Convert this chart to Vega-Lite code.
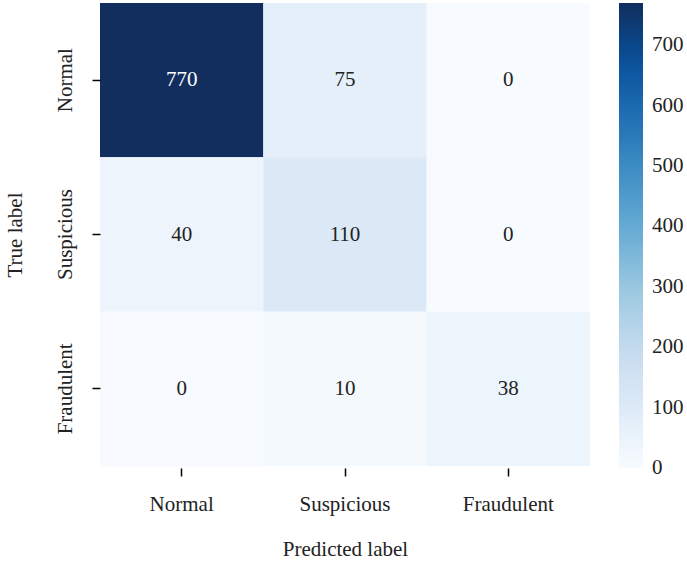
{
  "$schema": "https://vega.github.io/schema/vega-lite/v6.json",
  "width": 490,
  "height": 463,
  "autosize": "none",
  "padding": {"left": 100, "top": 3, "right": 97, "bottom": 96},
  "background": "white",
  "config": {"view": {"stroke": null}, "font": "Liberation Serif"},
  "data": {
    "values": [
      {"true": "Normal", "pred": "Normal", "count": 770},
      {"true": "Normal", "pred": "Suspicious", "count": 75},
      {"true": "Normal", "pred": "Fraudulent", "count": 0},
      {"true": "Suspicious", "pred": "Normal", "count": 40},
      {"true": "Suspicious", "pred": "Suspicious", "count": 110},
      {"true": "Suspicious", "pred": "Fraudulent", "count": 0},
      {"true": "Fraudulent", "pred": "Normal", "count": 0},
      {"true": "Fraudulent", "pred": "Suspicious", "count": 10},
      {"true": "Fraudulent", "pred": "Fraudulent", "count": 38}
    ]
  },
  "encoding": {
    "x": {
      "field": "pred",
      "type": "nominal",
      "sort": ["Normal", "Suspicious", "Fraudulent"],
      "title": "Predicted label",
      "scale": {"paddingInner": 0, "paddingOuter": 0},
      "axis": {
        "labelAngle": 0,
        "labelFont": "Liberation Serif",
        "labelFontSize": 21,
        "labelColor": "#222222",
        "labelPadding": 17,
        "offset": 2,
        "tickSize": 8,
        "tickWidth": 1.5,
        "tickColor": "black",
        "domain": false,
        "titleFont": "Liberation Serif",
        "titleFontSize": 21,
        "titleFontWeight": "normal",
        "titleColor": "#222222",
        "titleBaseline": "middle",
        "titleY": 81
      }
    },
    "y": {
      "field": "true",
      "type": "nominal",
      "sort": ["Normal", "Suspicious", "Fraudulent"],
      "title": "True label",
      "scale": {"paddingInner": 0, "paddingOuter": 0},
      "axis": {
        "labelAngle": -90,
        "labelAlign": "center",
        "labelBaseline": "bottom",
        "labelFont": "Liberation Serif",
        "labelFontSize": 21,
        "labelColor": "#222222",
        "labelPadding": 17,
        "tickSize": 8,
        "tickWidth": 1.5,
        "tickColor": "black",
        "domain": false,
        "titleFont": "Liberation Serif",
        "titleFontSize": 21,
        "titleFontWeight": "normal",
        "titleColor": "#222222",
        "titleBaseline": "middle",
        "titleX": -85
      }
    }
  },
  "layer": [
    {
      "mark": {"type": "rect"},
      "encoding": {
        "color": {
          "field": "count",
          "type": "quantitative",
          "scale": {
            "domain": [0, 770],
            "range": ["#f7fbff", "#deebf7", "#c6dbef", "#9ecae1", "#6baed6", "#4292c6", "#2171b5", "#08519c", "#112e5e"],
            "interpolate": "rgb"
          },
          "legend": {
            "orient": "none",
            "legendX": 519,
            "legendY": 0,
            "direction": "vertical",
            "gradientLength": 465,
            "gradientThickness": 24,
            "gradientStrokeWidth": 0,
            "title": null,
            "values": [0, 100, 200, 300, 400, 500, 600, 700],
            "labelFont": "Liberation Serif",
            "labelFontSize": 21,
            "labelColor": "#222222",
            "labelOffset": 9,
            "labelBaseline": "middle",
            "labelOverlap": false,
            "encode": {
              "labels": {"update": {"baseline": {"value": "middle"}}}
            }
          }
        }
      }
    },
    {
      "mark": {"type": "text", "font": "Liberation Serif", "fontSize": 21},
      "encoding": {
        "text": {"field": "count", "type": "quantitative"},
        "color": {
          "condition": {"test": "datum.count > 400", "value": "white"},
          "value": "#222222"
        }
      }
    }
  ]
}
